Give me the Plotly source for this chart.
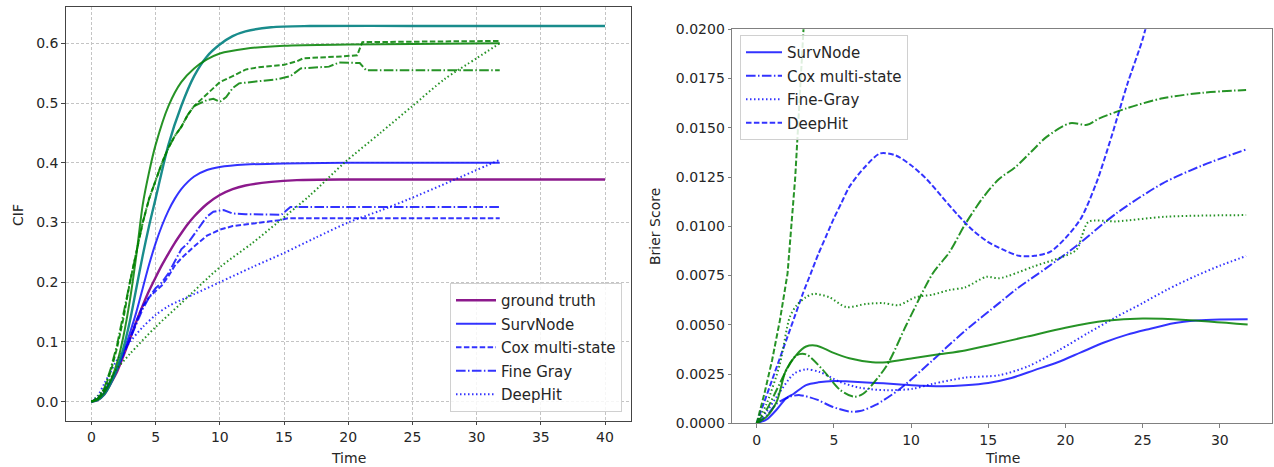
import plotly.graph_objects as go

# ---------------- Left panel: CIF ----------------
gt1_t = [0, 0.5, 1, 1.5, 2, 2.5, 3, 3.5, 4, 4.5, 5, 5.5, 6, 6.5, 7, 7.5, 8, 9, 10, 11, 12, 14, 16, 20, 30, 40]
gt1_v = [0, 0.003, 0.012, 0.03, 0.05, 0.077, 0.105, 0.134, 0.161, 0.186, 0.208, 0.229, 0.248, 0.266, 0.282, 0.297, 0.31, 0.331, 0.346, 0.356, 0.362, 0.368, 0.371, 0.372, 0.372, 0.372]

gt2_t = [0, 0.5, 1, 1.5, 2, 2.5, 3, 3.5, 4, 4.5, 5, 6, 7, 8, 9, 10, 11, 12, 14, 17, 25, 40]
gt2_v = [0, 0.003, 0.012, 0.03, 0.055, 0.09, 0.135, 0.19, 0.245, 0.295, 0.34, 0.43, 0.495, 0.545, 0.578, 0.598, 0.612, 0.62, 0.627, 0.629, 0.629, 0.629]

sn1_t = [0, 0.5, 1, 1.5, 2, 2.5, 3, 3.5, 4, 4.5, 5, 5.5, 6, 6.5, 7, 8, 9, 10, 12, 15, 20, 31.8]
sn1_v = [0, 0.004, 0.015, 0.033, 0.055, 0.083, 0.115, 0.15, 0.19, 0.23, 0.265, 0.295, 0.32, 0.34, 0.356, 0.377, 0.388, 0.393, 0.397, 0.399, 0.4, 0.4]

sn2_t = [0, 0.5, 1, 1.5, 2, 2.5, 3, 3.5, 4, 4.5, 5, 6, 7, 8, 9, 10, 12, 15, 20, 25, 31.8]
sn2_v = [0, 0.004, 0.015, 0.035, 0.065, 0.11, 0.17, 0.245, 0.33, 0.385, 0.43, 0.495, 0.535, 0.558, 0.573, 0.583, 0.591, 0.596, 0.598, 0.599, 0.6]

cox1_t = [0, 0.5, 1, 1.5, 2, 2.5, 3, 3.5, 4, 4.5, 5, 5.5, 6, 6.5, 7, 8, 9, 10, 11, 12.6, 14.7, 15.3, 31.8]
cox1_v = [0, 0.005, 0.018, 0.035, 0.055, 0.08, 0.105, 0.135, 0.16, 0.175, 0.185, 0.195, 0.21, 0.228, 0.24, 0.26, 0.278, 0.288, 0.294, 0.298, 0.304, 0.307, 0.307]

cox2_t = [0, 0.5, 1, 1.5, 2, 2.5, 3, 3.5, 4, 4.5, 5, 5.5, 6, 6.5, 7, 7.5, 8, 8.5, 9, 10, 11, 12, 13, 15, 16, 16.5, 19.5, 20.7, 21.1, 31.8]
cox2_v = [0, 0.005, 0.02, 0.05, 0.09, 0.14, 0.2, 0.25, 0.3, 0.34, 0.37, 0.4, 0.425, 0.445, 0.46, 0.48, 0.495, 0.505, 0.515, 0.535, 0.545, 0.556, 0.56, 0.564, 0.57, 0.575, 0.578, 0.58, 0.602, 0.604]

fg1_t = [0, 0.5, 1, 1.5, 2, 2.5, 3, 3.5, 4, 4.5, 5, 5.5, 6, 6.5, 7, 7.5, 8, 8.5, 9, 9.5, 10.3, 11, 12, 14.8, 15.5, 31.8]
fg1_v = [0, 0.005, 0.018, 0.035, 0.055, 0.08, 0.105, 0.13, 0.155, 0.175, 0.19, 0.2, 0.215, 0.235, 0.255, 0.265, 0.28, 0.295, 0.31, 0.318, 0.321, 0.315, 0.314, 0.313, 0.326, 0.326]

fg2_t = [0, 0.5, 1, 1.5, 2, 2.5, 3, 3.5, 4, 4.5, 5, 5.5, 6, 6.5, 7, 7.5, 8, 8.5, 9, 9.5, 10, 10.5, 11, 11.5, 13, 14.5, 15.5, 16.3, 18.5, 19.3, 20.9, 21.4, 31.8]
fg2_v = [0, 0.005, 0.022, 0.055, 0.095, 0.15, 0.2, 0.25, 0.3, 0.34, 0.37, 0.4, 0.425, 0.445, 0.46, 0.48, 0.495, 0.5, 0.505, 0.507, 0.502, 0.51, 0.525, 0.533, 0.536, 0.54, 0.545, 0.558, 0.561, 0.568, 0.567, 0.555, 0.555]

dh1_t = [0, 0.5, 1, 1.5, 2, 3, 4, 5, 6, 8, 10, 12.5, 15, 17.5, 20, 22.5, 24.6, 28.2, 31.8]
dh1_v = [0, 0.01, 0.03, 0.05, 0.07, 0.1, 0.125, 0.145, 0.16, 0.18, 0.2, 0.225, 0.249, 0.275, 0.3, 0.32, 0.338, 0.371, 0.405]

dh2_t = [0, 1, 1.7, 3, 5, 7, 10, 12.5, 14.5, 17, 19.7, 22.5, 25, 27.5, 30, 31.8]
dh2_v = [0, 0.02, 0.047, 0.08, 0.125, 0.165, 0.225, 0.265, 0.3, 0.345, 0.4, 0.45, 0.495, 0.54, 0.575, 0.6]

# ---------------- Right panel: Brier score ----------------
bs_sn1_t = [0, 0.65, 1.3, 1.9, 2.4, 3.2, 4.0, 5.0, 6.0, 7.1, 8.2, 9.5, 10.8, 12.0, 13.5, 15.0, 16.5, 18.0, 19.5, 21.0, 22.5, 24.0, 25.5, 27.0, 28.5, 30.0, 31.8]
bs_sn1_v = [0, 0.0002, 0.0007, 0.00126, 0.0015, 0.00194, 0.00208, 0.00215, 0.00212, 0.00207, 0.00203, 0.00196, 0.0019, 0.00188, 0.00193, 0.00205, 0.0023, 0.0027, 0.0031, 0.0036, 0.0041, 0.0045, 0.0048, 0.00508, 0.00522, 0.00527, 0.00528]

bs_sn2_t = [0, 0.65, 1.3, 1.9, 2.6, 3.2, 3.9, 4.9, 6.0, 7.5, 8.4, 10.1, 11.8, 13.5, 15.0, 17.5, 20.0, 22.6, 25.0, 27.8, 31.8]
bs_sn2_v = [0, 0.00034, 0.0011, 0.0027, 0.0035, 0.0039, 0.00394, 0.0036, 0.0033, 0.0031, 0.0031, 0.0033, 0.0035, 0.0037, 0.00395, 0.0044, 0.00485, 0.0052, 0.00532, 0.00525, 0.00502]

bs_cox1_t = [0, 0.65, 1.3, 2.15, 2.8, 3.9, 4.9, 6.0, 6.7, 7.7, 9.2, 11.4, 12.5, 13.5, 15.7, 16.8, 18.8, 20.7, 23.3, 26.3, 28.9, 31.7]
bs_cox1_v = [0, 0.0004, 0.001, 0.00135, 0.00143, 0.0012, 0.00084, 0.0006, 0.00062, 0.00093, 0.0017, 0.0032, 0.004, 0.0047, 0.0061, 0.0068, 0.0079, 0.009, 0.01066, 0.01218, 0.0131, 0.0139]

bs_cox2_t = [0, 0.65, 1.3, 2.0, 2.58, 3.2, 4.3, 5.4, 6.3, 6.9, 8.4, 9.7, 11.4, 12.5, 13.5, 14.7, 15.7, 16.8, 17.8, 18.8, 20.3, 21.4, 22.2, 24.0, 26.3, 28.9, 31.7]
bs_cox2_v = [0, 0.0007, 0.0017, 0.0028, 0.00345, 0.0035, 0.0027, 0.0017, 0.00135, 0.0015, 0.0029, 0.005, 0.0076, 0.0087, 0.0101, 0.0115, 0.0124, 0.01303, 0.0138, 0.01455, 0.01523, 0.01515, 0.01548, 0.016, 0.0165, 0.01678, 0.01692]

bs_fg1_t = [0, 0.65, 1.3, 2.4, 3.2, 4.1, 5.4, 6.7, 8.4, 10.1, 11.4, 13.5, 15.7, 17.6, 19.6, 21.5, 23.3, 25.0, 26.55, 28.5, 30.0, 31.7]
bs_fg1_v = [0, 0.0006, 0.00135, 0.0025, 0.00274, 0.0026, 0.0021, 0.0018, 0.00168, 0.00175, 0.002, 0.00232, 0.00244, 0.0029, 0.00372, 0.0046, 0.0054, 0.0061, 0.00677, 0.0075, 0.008, 0.00849]

bs_fg2_t = [0, 0.65, 1.5, 2.15, 2.6, 3.2, 3.7, 4.7, 5.8, 7.1, 8.2, 9.2, 10.3, 11.4, 12.5, 13.5, 14.9, 15.7, 17.9, 20.7, 21.05, 21.5, 23.3, 26.55, 31.7]
bs_fg2_v = [0, 0.001, 0.003, 0.0054, 0.006, 0.0064, 0.00657, 0.0064, 0.0059, 0.00606, 0.0061, 0.006, 0.0064, 0.00653, 0.00677, 0.0069, 0.00744, 0.00736, 0.00795, 0.0088, 0.00947, 0.01023, 0.01025, 0.01049, 0.01057]

bs_dh1_t = [0, 0.5, 1, 1.5, 2, 2.5, 3, 3.5, 4, 4.5, 5, 5.5, 6, 7, 8, 9, 10, 11, 12, 13, 14, 15, 16, 17, 18, 19, 20, 21, 22, 23, 24, 25, 25.5, 26]
bs_dh1_v = [0, 0.0011, 0.0022, 0.0033, 0.0044, 0.0055, 0.0066, 0.0076, 0.0086, 0.0095, 0.0104, 0.0112, 0.012, 0.013, 0.0137, 0.0136, 0.0131, 0.0124, 0.0115, 0.0106, 0.0098, 0.0092, 0.0088, 0.0085, 0.0085, 0.0087, 0.0094, 0.0104, 0.0122, 0.0146, 0.0172, 0.0195, 0.021, 0.0225]

bs_dh2_t = [0, 0.5, 1, 1.5, 2, 2.5, 3, 3.2]
bs_dh2_v = [0, 0.0015, 0.0032, 0.0052, 0.0076, 0.0125, 0.0195, 0.0225]

BLUE = "rgba(0,0,255,0.8)"
GREEN = "rgba(0,128,0,0.85)"
PURPLE = "rgba(128,0,128,0.9)"
TEAL = "rgba(0,128,128,0.9)"
DASH = "5.5px,2.4px"
DASHDOT = "9.6px,2.4px,1.5px,2.4px"
DOT = "1.5px,2.5px"
LW = 2

fig = go.Figure()

def add(t, v, color, dash, name=None, legend=False, xa="x", ya="y", lg="legend", spline=True, width=LW):
    fig.add_trace(go.Scatter(
        x=t, y=v, mode="lines", name=name, showlegend=legend,
        legendgroup=(lg + str(name)) if name else None,
        line=dict(color=color, dash=dash, width=width, shape="spline" if spline else "linear", smoothing=0.8),
        xaxis=xa, yaxis=ya, legend=lg, hoverinfo="skip"))

# left panel
add(gt1_t, gt1_v, PURPLE, "solid", "ground truth", True, width=2.4)
add(sn1_t, sn1_v, BLUE, "solid", "SurvNode", True)
add(cox1_t, cox1_v, BLUE, DASH, "Cox multi-state", True, spline=False)
add(fg1_t, fg1_v, BLUE, DASHDOT, "Fine Gray", True, spline=False)
add(dh1_t, dh1_v, BLUE, DOT, "DeepHit", True)
add(gt2_t, gt2_v, TEAL, "solid", width=2.4)
add(sn2_t, sn2_v, GREEN, "solid")
add(cox2_t, cox2_v, GREEN, DASH, spline=False)
add(fg2_t, fg2_v, GREEN, DASHDOT, spline=False)
add(dh2_t, dh2_v, GREEN, DOT)

# right panel
add(bs_sn1_t, bs_sn1_v, BLUE, "solid", "SurvNode", True, "x2", "y2", "legend2")
add(bs_cox1_t, bs_cox1_v, BLUE, DASHDOT, "Cox multi-state", True, "x2", "y2", "legend2")
add(bs_fg1_t, bs_fg1_v, BLUE, DOT, "Fine-Gray", True, "x2", "y2", "legend2")
add(bs_dh1_t, bs_dh1_v, BLUE, DASH, "DeepHit", True, "x2", "y2", "legend2")
add(bs_sn2_t, bs_sn2_v, GREEN, "solid", xa="x2", ya="y2")
add(bs_cox2_t, bs_cox2_v, GREEN, DASHDOT, xa="x2", ya="y2")
add(bs_fg2_t, bs_fg2_v, GREEN, DOT, xa="x2", ya="y2")
add(bs_dh2_t, bs_dh2_v, GREEN, DASH, xa="x2", ya="y2", spline=False)

W, H = 1274, 467
FONT = dict(family="DejaVu Sans", size=14, color="#262626")
LFONT = dict(family="DejaVu Sans", size=15, color="#262626")
common = dict(showline=True, mirror=True, ticks="outside", ticklen=3.5, tickwidth=1,
              zeroline=False, tickfont=FONT, automargin=False)

fig.update_layout(
    width=W, height=H, margin=dict(l=0, r=0, t=0, b=0),
    paper_bgcolor="white", plot_bgcolor="white", font=FONT,
    xaxis=dict(domain=[65.7 / W, 630.7 / W], range=[-2, 42], tickvals=[0, 5, 10, 15, 20, 25, 30, 35, 40],
               linecolor="#444", tickcolor="#444", showgrid=True, gridcolor="#c4c4c4", griddash="3px,2px",
               gridwidth=1, anchor="y", **common),
    yaxis=dict(domain=[(H - 420.5) / H, (H - 7.2) / H], range=[-0.0315, 0.6605],
               tickvals=[0, 0.1, 0.2, 0.3, 0.4, 0.5, 0.6], tickformat=".1f",
               linecolor="#444", tickcolor="#444", showgrid=True, gridcolor="#c4c4c4", griddash="3px,2px",
               gridwidth=1, anchor="x", **common),
    xaxis2=dict(domain=[732.1 / W, 1272.2 / W], range=[-1.59, 33.39], tickvals=[0, 5, 10, 15, 20, 25, 30],
                linecolor="#808080", tickcolor="#808080", showgrid=False, anchor="y2", **common),
    yaxis2=dict(domain=[(H - 423.3) / H, (H - 29.3) / H], range=[0, 0.02],
                tickvals=[0, 0.0025, 0.005, 0.0075, 0.01, 0.0125, 0.015, 0.0175, 0.02], tickformat=".4f",
                linecolor="#808080", tickcolor="#808080", showgrid=False, anchor="x2", **common),
    legend=dict(x=622 / W, y=(H - 412) / H, xanchor="right", yanchor="bottom",
                bgcolor="rgba(255,255,255,0.85)", bordercolor="#d0d0d0", borderwidth=1,
                font=LFONT, tracegroupgap=1, itemwidth=40),
    legend2=dict(x=740 / W, y=(H - 35) / H, xanchor="left", yanchor="top",
                 bgcolor="rgba(255,255,255,0.85)", bordercolor="#d0d0d0", borderwidth=1,
                 font=LFONT, tracegroupgap=1, itemwidth=36),
    annotations=[
        dict(text="CIF", x=18 / W, y=(H - 215) / H, xref="paper", yref="paper", showarrow=False,
             textangle=-90, font=FONT, xanchor="center", yanchor="middle"),
        dict(text="Time", x=348 / W, y=(H - 458) / H, xref="paper", yref="paper", showarrow=False,
             font=FONT, xanchor="center", yanchor="middle"),
        dict(text="Brier Score", x=655 / W, y=(H - 227) / H, xref="paper", yref="paper", showarrow=False,
             textangle=-90, font=FONT, xanchor="center", yanchor="middle"),
        dict(text="Time", x=1002 / W, y=(H - 458) / H, xref="paper", yref="paper", showarrow=False,
             font=FONT, xanchor="center", yanchor="middle"),
    ],
)

fig.write_html("out.html")
